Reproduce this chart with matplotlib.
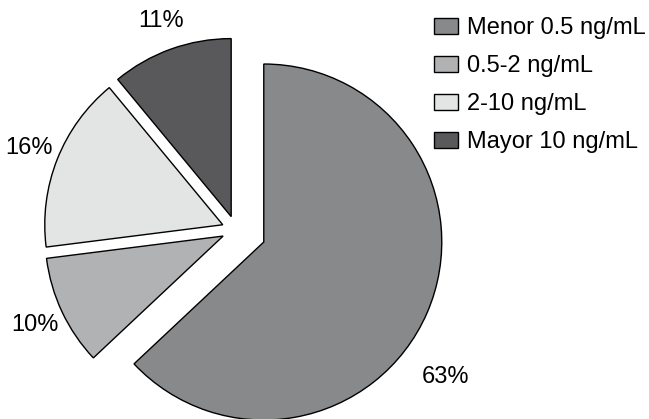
import numpy as np
import matplotlib
matplotlib.use("Agg")
import matplotlib.pyplot as plt

plt.rcParams['font.family'] = ['Liberation Sans', 'DejaVu Sans']

# Distribución de niveles
categorias = ['Menor 0.5 ng/mL', '0.5-2 ng/mL', '2-10 ng/mL', 'Mayor 10 ng/mL']
porcentajes = [63, 10, 16, 11]
colores = ['#88898b', '#b1b2b4', '#e3e4e4', '#59595b']
separacion = [0.17, 0.08, 0.08, 0.08]

fig = plt.figure(figsize=(6.49, 4.19), dpi=100)
ax = fig.add_axes([0, 0, 1, 1])

wedges, textos = ax.pie(porcentajes, colors=colores, explode=separacion,
                        startangle=90, counterclock=False,
                        labels=[f'{p}%' for p in porcentajes], labeldistance=1.17,
                        wedgeprops=dict(edgecolor='black', linewidth=1.0),
                        textprops=dict(ha='center', va='center', fontsize=17))

# etiqueta del sector mayor un poco más abajo
ang = np.deg2rad(-35)
textos[0].set_position((1.44 * np.cos(ang), 1.44 * np.sin(ang)))

# escala: 1 unidad = 178 px, centro en (236, 230) px
esc = 178.0
ax.set_xlim(-236 / esc, (649 - 236) / esc)
ax.set_ylim(-(419 - 230) / esc, 230 / esc)
ax.set_aspect('equal')
ax.axis('off')

ax.legend(wedges, categorias, loc='upper left',
          bbox_to_anchor=(434 / 649, 1 - 17 / 419), bbox_transform=fig.transFigure,
          frameon=False, borderpad=0, borderaxespad=0, fontsize=17,
          handlelength=1.0, handleheight=0.68, handletextpad=0.38, labelspacing=0.68)

fig.savefig('out.png', dpi=100)
